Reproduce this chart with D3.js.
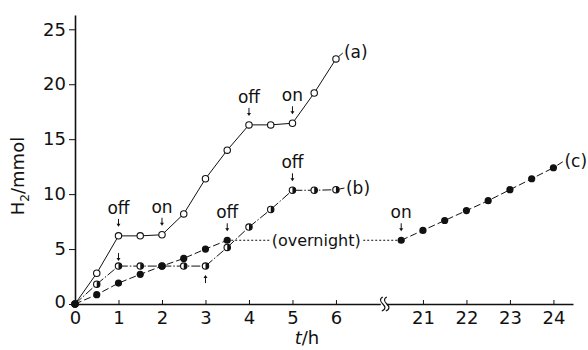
<!DOCTYPE html>
<html><head><meta charset="utf-8">
<script src="https://cdn.jsdelivr.net/npm/d3@7"></script>
<style>
body{margin:0;background:#fff}
text{font-family:"DejaVu Sans",sans-serif;fill:#111}
</style></head><body>
<svg id="chart" width="588" height="350"></svg>
<script>
// sampling times (h) and H2 amounts (mmol) for each run
var timesAB = [0,0.5,1,1.5,2,2.5,3,3.5,4,4.5,5,5.5,6];
var runA = [0,2.8,6.2,6.2,6.3,8.2,11.4,14.0,16.3,16.3,16.45,19.2,22.3];
var runB = [0,1.8,3.45,3.45,3.45,3.45,3.45,5.15,7.0,8.6,10.35,10.35,10.4];
var timesC = [0,0.5,1,1.5,2,2.5,3,3.5,20.5,21,21.5,22,22.5,23,23.5,24];
var runC = [0,0.85,1.9,2.7,3.45,4.15,5.0,5.8,5.8,6.7,7.6,8.5,9.4,10.4,11.4,12.4];
var xTicks = [0,1,2,3,4,5,6,21,22,23,24];
var yTicks = [0,5,10,15,20,25];

// light switched off / on
var notes = [
    {run:"a", t:1, text:"off", dir:"down"},
    {run:"a", t:2, text:"on", dir:"down"},
    {run:"a", t:4, text:"off", dir:"down"},
    {run:"a", t:5, text:"on", dir:"down"},
    {run:"b", t:1, text:"", dir:"down"},
    {run:"b", t:3, text:"", dir:"up"},
    {run:"b", t:5, text:"off", dir:"down"},
    {run:"c", t:3.5, text:"off", dir:"down"},
    {run:"c", t:20.5, text:"on", dir:"down"}
];

var svg = d3.select("#chart");

// the time axis is cut between 7 h and 20 h
function xc(t){ return t > 7 ? t - 13 : t; }

var x = d3.scaleLinear().domain([0, 11.45]).range([75, 573]);
var y = d3.scaleLinear().domain([0, 26.3]).range([304, 15]);

var runs = {
    a: {t: timesAB, v: runA},
    b: {t: timesAB, v: runB},
    c: {t: timesC, v: runC}
};
function valueAt(run, t){
    var r = runs[run];
    return r.v[r.t.indexOf(t)];
}

// axes
var xAxis = d3.axisBottom(x)
    .tickValues(xTicks.map(xc))
    .tickFormat(function(d){ return d > 7 ? d + 13 : d; })
    .tickSizeInner(-4).tickSizeOuter(0).tickPadding(7);
var gx = svg.append("g").attr("transform","translate(0," + y(0) + ")").call(xAxis);
gx.selectAll("text").style("font-size","18px");

var yAxis = d3.axisLeft(y).tickValues(yTicks)
    .tickSizeInner(6).tickSizeOuter(0).tickPadding(3);
var gy = svg.append("g").attr("transform","translate(" + x(0) + ",0)").call(yAxis);
gy.selectAll("text").style("font-size","18px");
gy.selectAll("text").filter(function(d){ return d == 0; }).attr("dy","0.2em");

svg.selectAll(".domain").attr("stroke","#111").attr("stroke-width",1.6);
svg.selectAll(".tick line").attr("stroke","#111");

// break mark
var bx = x(7.1);
svg.append("rect").attr("x", bx - 3).attr("y", y(0) - 3).attr("width", 6).attr("height", 6).attr("fill","#fff");
[-2, 2].forEach(function(o){
    svg.append("path")
        .attr("d","M" + (bx + o + 1) + "," + (y(0) - 7) + " c-4,2 -2,5 0,7 c2,2 4,5 -1,7")
        .attr("fill","none").attr("stroke","#111").attr("stroke-width",1.1);
});

// axis titles
svg.append("text").attr("transform","translate(24,176) rotate(-90)")
    .attr("text-anchor","middle").style("font-size","18px")
    .html('H<tspan dy="5" style="font-size:12px">2</tspan><tspan dy="-5">/mmol</tspan>');
svg.append("text").attr("x", 307).attr("y", 344).attr("text-anchor","middle")
    .style("font-size","18px")
    .html('<tspan style="font-style:italic">t</tspan>/h');

var line = d3.line()
    .x(function(d){ return x(xc(d[0])); })
    .y(function(d){ return y(d[1]); });

function pairs(ts, vs){ return ts.map(function(t,i){ return [t, vs[i]]; }); }

// run (a)
svg.append("path").datum(pairs(timesAB, runA)).attr("d", line)
    .attr("fill","none").attr("stroke","#111").attr("stroke-width",1);
// run (b)
svg.append("path").datum(pairs(timesAB, runB)).attr("d", line)
    .attr("fill","none").attr("stroke","#111").attr("stroke-width",1)
    .attr("stroke-dasharray","9,2,1.5,2");
// run (c), before and after the night
var cPts = pairs(timesC, runC);
svg.append("path").datum(cPts.slice(0, 8)).attr("d", line)
    .attr("fill","none").attr("stroke","#111").attr("stroke-width",1)
    .attr("stroke-dasharray","7,3");
svg.append("path").datum(cPts.slice(8)).attr("d", line)
    .attr("fill","none").attr("stroke","#111").attr("stroke-width",1)
    .attr("stroke-dasharray","7,3");
svg.append("path").datum(cPts.slice(7, 9)).attr("d", line)
    .attr("fill","none").attr("stroke","#111").attr("stroke-width",1)
    .attr("stroke-dasharray","2,2");

var mid = (x(xc(3.5)) + x(xc(20.5))) / 2 + 2;
var ovg = svg.append("g");
var ovBg = ovg.append("rect").attr("fill","#fff");
var ov = ovg.append("text").attr("x", mid).attr("y", y(5.8)).attr("dy","0.35em")
    .attr("text-anchor","middle").style("font-size","16px").text("(overnight)");
var bb = ov.node().getBBox();
ovBg.attr("x", bb.x - 1).attr("y", bb.y)
    .attr("width", bb.width + 2).attr("height", bb.height);

// markers
svg.selectAll(".ma").data(pairs(timesAB, runA)).enter().append("circle")
    .attr("cx", function(d){ return x(xc(d[0])); })
    .attr("cy", function(d){ return y(d[1]); })
    .attr("r", 3.2).attr("fill","#fff").attr("stroke","#111").attr("stroke-width",1.1);

var mb = svg.selectAll(".mb").data(pairs(timesAB, runB)).enter().append("g")
    .attr("transform", function(d){ return "translate(" + x(xc(d[0])) + "," + y(d[1]) + ")"; });
mb.append("circle").attr("r", 3.2).attr("fill","#fff").attr("stroke","#111").attr("stroke-width",1.1);
mb.append("path").attr("d","M0,-3.2 A3.2,3.2 0 0 1 0,3.2 Z").attr("fill","#111");

svg.selectAll(".mc").data(cPts).enter().append("circle")
    .attr("cx", function(d){ return x(xc(d[0])); })
    .attr("cy", function(d){ return y(d[1]); })
    .attr("r", 3.6).attr("fill","#111");

// on / off notes with arrows
notes.forEach(function(n){
    var px = x(xc(n.t)), py = y(valueAt(n.run, n.t));
    var g = svg.append("g");
    if (n.dir == "down") {
        var top = n.text ? py - 17 : py - 13;
        g.append("line").attr("x1", px).attr("x2", px).attr("y1", top).attr("y2", top + 6)
            .attr("stroke","#111").attr("stroke-width",1);
        g.append("path").attr("d","M" + (px - 2) + "," + (top + 5) + " L" + px + "," + (top + 8) + " L" + (px + 2) + "," + (top + 5) + "Z")
            .attr("fill","#111");
        if (n.text) {
            g.append("text").attr("x", px).attr("y", py - 22).attr("text-anchor","middle")
                .style("font-size","17px").text(n.text);
        }
    } else {
        var bot = py + 17;
        g.append("line").attr("x1", px).attr("x2", px).attr("y1", bot - 6).attr("y2", bot)
            .attr("stroke","#111").attr("stroke-width",1);
        g.append("path").attr("d","M" + (px - 2) + "," + (bot - 5) + " L" + px + "," + (bot - 8) + " L" + (px + 2) + "," + (bot - 5) + "Z")
            .attr("fill","#111");
    }
});

// run labels
var runLabels = [
    {name:"(a)", t:6, v:runA[runA.length - 1], dx:8, dy:-7},
    {name:"(b)", t:6, v:runB[runB.length - 1], dx:10, dy:-2},
    {name:"(c)", t:24, v:runC[runC.length - 1], dx:11, dy:-7}
];
runLabels.forEach(function(l){
    var px = x(xc(l.t)), py = y(l.v);
    svg.append("line").attr("x1", px + l.dx * 0.35).attr("y1", py + l.dy * 0.35)
        .attr("x2", px + l.dx * 0.85).attr("y2", py + l.dy * 0.85)
        .attr("stroke","#111").attr("stroke-width",1);
    svg.append("text").attr("x", px + l.dx).attr("y", py + l.dy).attr("dy","0.35em")
        .style("font-size","17px").text(l.name);
});
</script>
</body></html>
